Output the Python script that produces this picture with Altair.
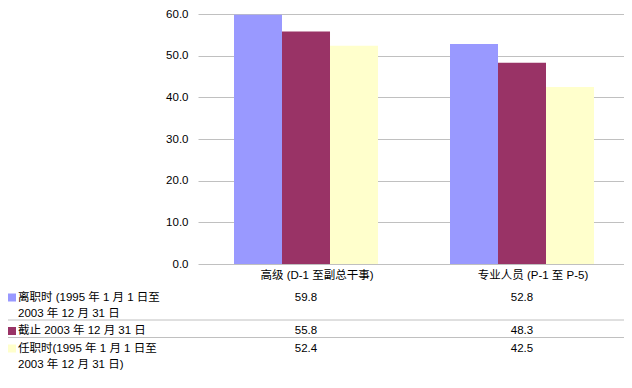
import altair as alt
import pandas as pd

# ---- data ----
categories = ["高级 (D-1 至副总干事)", "专业人员 (P-1 至 P-5)"]
series_keys = ["s1", "s2", "s3"]
series_labels = [
    ["离职时 (1995 年 1 月 1 日至", "2003 年 12 月 31 日"],
    ["截止 2003 年 12 月 31 日"],
    ["任职时(1995 年 1 月 1 日至", "2003 年 12 月 31 日)"],
]
values_s1 = [59.8, 52.8]
values_s2 = [55.8, 48.3]
values_s3 = [52.4, 42.5]
colors = ["#9999FF", "#993366", "#FFFFCC"]
y_ticks = [0, 10, 20, 30, 40, 50, 60]

all_values = [values_s1, values_s2, values_s3]
rows = []
for k, vals in zip(series_keys, all_values):
    for c, v in zip(categories, vals):
        rows.append({"category": c, "series": k, "value": v})
df = pd.DataFrame(rows)

FONT = "Liberation Sans, 'Noto Sans CJK SC', sans-serif"
FS = 11.5
LINE_H = 16
ROW_GAP = 17.5   # from last line of a row to first line of next row
SEP_OFF = 6.5    # separator below last line of a row
PLOT_W = 426

X = alt.X(
    "category:N",
    sort=categories,
    scale=alt.Scale(paddingInner=1 / 3, paddingOuter=0.1528, align=0.5455),
    axis=alt.Axis(title=None, labelAngle=0, ticks=False, domain=False,
                  labelPadding=5, labelOffset=11, labelFont=FONT, labelFontSize=FS,
                  labelColor="#000000", grid=False),
)
color_scale = alt.Scale(domain=series_keys, range=colors)

bars = alt.Chart(df).mark_bar(stroke=None).encode(
    x=X,
    xOffset=alt.XOffset("series:N", sort=series_keys,
                        scale=alt.Scale(paddingInner=0, paddingOuter=0)),
    y=alt.Y("value:Q", scale=alt.Scale(domain=[0, 60], nice=False),
            axis=alt.Axis(title=None, values=y_ticks, format=".1f",
                          ticks=False, domain=False, labelPadding=10,
                          labelFont=FONT, labelFontSize=FS,
                          labelColor="#000000", grid=True,
                          gridColor="#c0c0c0", gridWidth=1)),
    color=alt.Color("series:N", scale=color_scale, legend=None),
)

layers = [bars]

# table rows: vertical positions derived from line counts (layout only)
y = 283.5
for i, k in enumerate(series_keys):
    rc = y
    lines = series_labels[i]
    sub = df[df["series"] == k]
    layers.append(alt.Chart(sub).mark_text(
        font=FONT, fontSize=FS, color="#000000", baseline="middle", align="center"
    ).encode(x=X, y=alt.value(rc), text=alt.Text("value:Q", format=".1f")))
    lab_df = pd.DataFrame({"series": [k]})
    layers.append(alt.Chart(lab_df).mark_square(size=64, opacity=1, filled=True).encode(
        x=alt.value(-186), y=alt.value(rc),
        color=alt.Color("series:N", scale=color_scale, legend=None),
    ))
    for j, line in enumerate(lines):
        ldf = pd.DataFrame({"label": [line]})
        layers.append(alt.Chart(ldf).mark_text(
            font=FONT, fontSize=FS, color="#000000", baseline="middle", align="left"
        ).encode(x=alt.value(-180), y=alt.value(rc + j * LINE_H), text="label:N"))
    last = rc + (len(lines) - 1) * LINE_H
    if i < len(series_keys) - 1:
        layers.append(alt.Chart(lab_df).mark_rule(color="#c0c0c0", strokeWidth=1).encode(
            x=alt.value(-190), x2=alt.value(PLOT_W), y=alt.value(last + SEP_OFF)
        ))
    y = last + ROW_GAP

chart = alt.layer(*layers).properties(
    width=PLOT_W, height=250,
    autosize=alt.AutoSizeParams(type="none"),
    padding={"left": 190, "top": 6, "right": 0, "bottom": 116},
).configure_view(stroke=None)

chart.save("out.html", embed_options={"renderer": "svg", "actions": False})
